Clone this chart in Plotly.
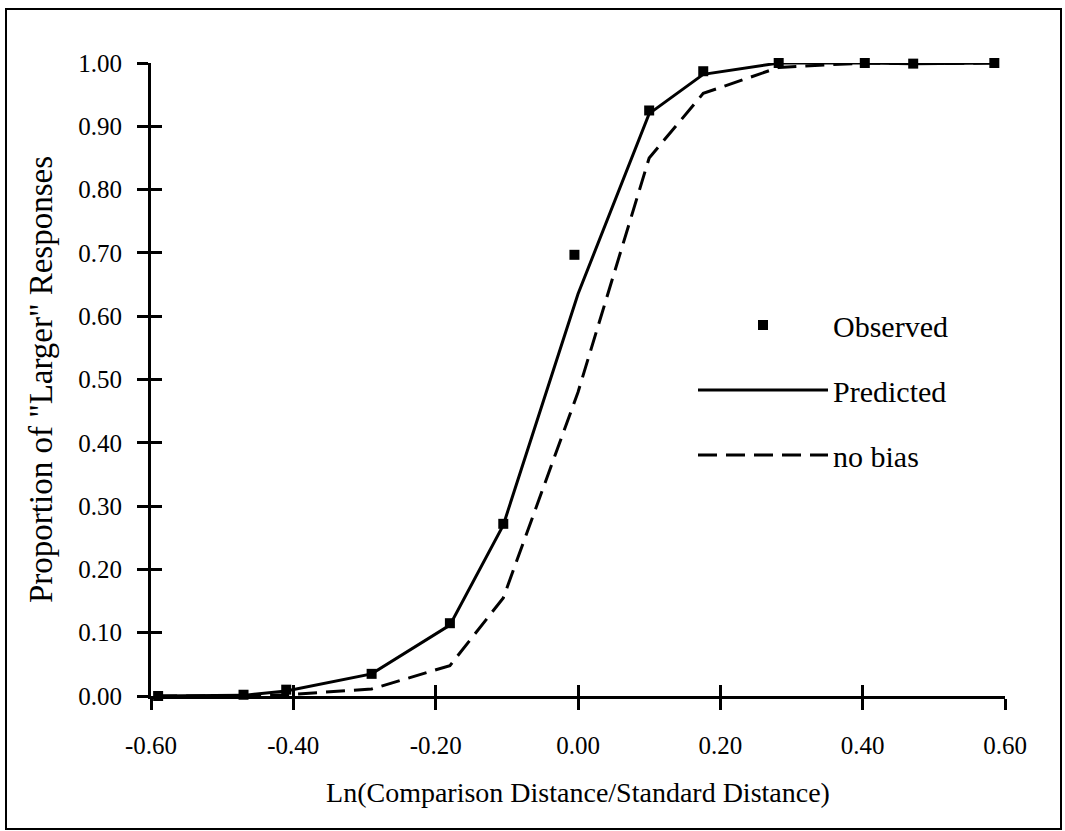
import plotly.graph_objects as go

# Data
obs_x = [-0.59, -0.47, -0.41, -0.29, -0.18, -0.105, -0.005, 0.10, 0.176, 0.282, 0.403, 0.471, 0.585]
obs_y = [0.000, 0.002, 0.010, 0.035, 0.115, 0.272, 0.697, 0.925, 0.987, 1.000, 1.000, 0.999, 1.000]

pred_x = [-0.59, -0.47, -0.41, -0.29, -0.18, -0.105, 0.0, 0.10, 0.176, 0.282, 0.403, 0.471, 0.585]
pred_y = [0.000, 0.001, 0.008, 0.035, 0.112, 0.270, 0.635, 0.920, 0.982, 1.000, 1.000, 0.999, 1.000]

nob_x = [-0.59, -0.47, -0.41, -0.29, -0.18, -0.105, 0.0, 0.10, 0.176, 0.282, 0.403, 0.471, 0.585]
nob_y = [0.000, 0.000, 0.002, 0.011, 0.048, 0.155, 0.480, 0.850, 0.952, 0.993, 1.000, 0.999, 1.000]

x_ticks = [-0.6, -0.4, -0.2, 0.0, 0.2, 0.4, 0.6]
x_tick_text = ["-0.60", "-0.40", "-0.20", "0.00", "0.20", "0.40", "0.60"]
y_ticks = [0.0, 0.1, 0.2, 0.3, 0.4, 0.5, 0.6, 0.7, 0.8, 0.9, 1.0]
y_tick_text = ["0.00", "0.10", "0.20", "0.30", "0.40", "0.50", "0.60", "0.70", "0.80", "0.90", "1.00"]

FONT = "Liberation Serif"
W, H = 1065, 831
ML, MR, MT, MB = 151, 60, 63, 135

fig = go.Figure()
fig.add_trace(go.Scatter(x=obs_x, y=obs_y, mode="markers", name="Observed",
                         marker=dict(symbol="square", size=10, color="black"),
                         legendgroup="a", cliponaxis=False))
fig.add_trace(go.Scatter(x=pred_x, y=pred_y, mode="lines", name="Predicted",
                         line=dict(color="black", width=3),
                         legendgroup="b", cliponaxis=False))
fig.add_trace(go.Scatter(x=nob_x, y=nob_y, mode="lines", name="no bias",
                         line=dict(color="black", width=3, dash="19px,9px"),
                         legendgroup="c", cliponaxis=False))
# overlay axes carrying the inner half of the crossing ticks
fig.add_trace(go.Scatter(x=[None], y=[None], xaxis="x2", yaxis="y2",
                         showlegend=False, hoverinfo="skip"))

axis_common = dict(showgrid=False, zeroline=False, showline=True, linecolor="black",
                   linewidth=3, tickcolor="black", tickwidth=3, ticklen=11)

fig.update_layout(
    width=W, height=H,
    margin=dict(l=ML, r=MR, t=MT, b=MB, autoexpand=False),
    paper_bgcolor="white", plot_bgcolor="white",
    font=dict(family=FONT, size=25, color="black"),
    xaxis=dict(range=[-0.6, 0.6], tickvals=x_ticks, ticktext=x_tick_text, ticks="outside",
               ticklabelstandoff=14,
               title=dict(text="Ln(Comparison Distance/Standard Distance)", standoff=25,
                          font=dict(size=28)),
               **axis_common),
    yaxis=dict(range=[0, 1], tickvals=y_ticks, ticktext=y_tick_text, ticks="outside",
               ticklabelstandoff=10,
               title=dict(text="Proportion of \"Larger\" Responses", standoff=16,
                          font=dict(size=33)),
               **axis_common),
    xaxis2=dict(range=[-0.6, 0.6], overlaying="x", anchor="y2", side="bottom",
                tickvals=x_ticks, ticks="inside", showticklabels=False, **axis_common),
    yaxis2=dict(range=[0, 1], overlaying="y", anchor="x2", side="left",
                tickvals=y_ticks, ticks="inside", showticklabels=False, **axis_common),
    legend=dict(x=(693 - ML) / (W - ML - MR), y=1 - (299 - MT) / (H - MT - MB),
                xanchor="left", yanchor="top", bgcolor="rgba(0,0,0,0)",
                itemwidth=130, traceorder="grouped", tracegroupgap=23,
                font=dict(family=FONT, size=30)),
    showlegend=True,
)

pw, ph = W - ML - MR, H - MT - MB
fig.add_shape(type="rect", xref="paper", yref="paper",
              x0=(6 - ML) / pw, x1=(1061 - ML) / pw,
              y0=1 - (829 - MT) / ph, y1=1 - (9 - MT) / ph,
              line=dict(color="black", width=2), layer="below")

fig.write_html("out.html")
